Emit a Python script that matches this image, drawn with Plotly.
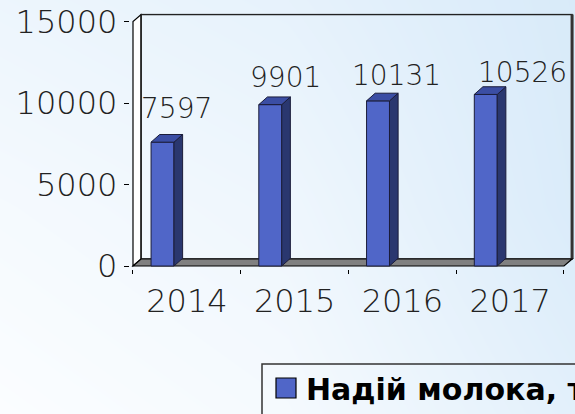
import plotly.graph_objects as go

# ---- data ----
years = ["2014", "2015", "2016", "2017"]
milk_yield = [7597, 9901, 10131, 10526]
y_ticks = [0, 5000, 10000, 15000]
series_name = "Надій молока, т"

# ---- style constants ----
W, H = 575, 414
BAR_FRONT = "#5066c8"
BAR_TOP = "#3b4ea4"
BAR_SIDE = "#2a376f"
EDGE = "#1b1d3a"
THIN = "DejaVu Sans ExtraLight, DejaVu Sans"
label_xshift = [14, 15, 18, 37]
label_yshift = [34, 27, 25, 22]

# geometry of the pseudo-3D frame (axis units)
ux = 107.75            # px per category
uy = 244.5 / 15000     # px per y unit
x0px, y0px = 133, 266  # pixel position of x=-0.5, y=0
bar_off, bar_w = -0.226, 0.213
dxb, dyb = 0.08, 470       # bar depth
dxw, dyw = 0.075, 430      # wall depth
xmin, xmax = -0.53, 3.5 + dxw + 0.02
ymin, ymax = -160, 15000 + dyw + 60

dom_x = [(x0px + (xmin + 0.5) * ux) / W, (x0px + (xmax + 0.5) * ux) / W]
dom_y = [1 - (y0px - ymin * uy) / H, 1 - (y0px - ymax * uy) / H]

fig = go.Figure()

# background gradient (heatmap on a hidden full-page axis pair)
fig.add_trace(go.Heatmap(
    x=[0, 0.5, 1], y=[0, 0.5, 1],
    z=[[0.0, 0.15, 0.6], [0.15, 0.3, 0.8], [0.35, 0.5, 0.85]],
    zmin=0, zmax=1, zsmooth="best", showscale=False, hoverinfo="skip",
    colorscale=[[0, "#fbfdff"], [1, "#d2e7f8"]],
    xaxis="x", yaxis="y"))

xs = [i + bar_off for i in range(len(years))]

# front faces
fig.add_trace(go.Bar(
    x=xs, y=milk_yield, width=bar_w, marker=dict(color=BAR_FRONT, line=dict(color=EDGE, width=1)),
    xaxis="x2", yaxis="y2", showlegend=False, hoverinfo="skip"))

# side and top faces
sx, sy, tx, ty = [], [], [], []
for xc, v in zip(xs, milk_yield):
    xl, xr = xc - bar_w / 2, xc + bar_w / 2
    sx += [xr, xr + dxb, xr + dxb, xr, xr, None]
    sy += [0, dyb, v + dyb, v, 0, None]
    tx += [xl, xr, xr + dxb, xl + dxb, xl, None]
    ty += [v, v, v + dyb, v + dyb, v, None]
fig.add_trace(go.Scatter(x=sx, y=sy, fill="toself", fillcolor=BAR_SIDE, mode="lines",
                         line=dict(color=EDGE, width=1), xaxis="x2", yaxis="y2",
                         showlegend=False, hoverinfo="skip"))
fig.add_trace(go.Scatter(x=tx, y=ty, fill="toself", fillcolor=BAR_TOP, mode="lines",
                         line=dict(color=EDGE, width=1), xaxis="x2", yaxis="y2",
                         showlegend=False, hoverinfo="skip"))

shapes = []
top = y_ticks[-1]
xe = len(years) - 0.5
# left wall
shapes.append(dict(type="path", xref="x2", yref="y2", layer="below",
                   path=f"M -0.5 0 L -0.5 {top} L {-0.5 + dxw} {top + dyw} L {-0.5 + dxw} {dyw} Z",
                   fillcolor="white", line=dict(color="black", width=1.2)))
# back wall
shapes.append(dict(type="rect", xref="x2", yref="y2", layer="below",
                   x0=-0.5 + dxw, x1=xe + dxw, y0=dyw, y1=top + dyw,
                   line=dict(color="#222", width=1.5)))
shapes.append(dict(type="line", xref="x2", yref="y2", layer="below",
                   x0=xe + dxw, x1=xe + dxw, y0=dyw, y1=top + dyw,
                   line=dict(color="#333", width=3)))
# floor
shapes.append(dict(type="path", xref="x2", yref="y2", layer="below",
                   path=f"M -0.5 0 L {xe} 0 L {xe + dxw} {dyw} L {-0.5 + dxw} {dyw} Z",
                   fillcolor="#808080", line=dict(color="black", width=1.2)))

# legend (manual)
shapes.append(dict(type="rect", xref="paper", yref="paper",
                   x0=262 / W, x1=1.1, y0=-0.1, y1=1 - 364 / H,
                   line=dict(color="#333", width=1.5), fillcolor="rgba(0,0,0,0)"))
shapes.append(dict(type="rect", xref="paper", yref="paper",
                   x0=276 / W, x1=296 / W, y0=1 - 398 / H, y1=1 - 378 / H,
                   line=dict(color="black", width=1.2), fillcolor=BAR_FRONT))

annotations = []
for xc, v, xs_, ys_ in zip(xs, milk_yield, label_xshift, label_yshift):
    annotations.append(dict(x=xc, y=v, xref="x2", yref="y2", text=f"{v}", showarrow=False,
                            xanchor="center", yanchor="middle", xshift=xs_, yshift=ys_,
                            font=dict(family=THIN, size=28, color="#222", weight=200)))
annotations.append(dict(x=304 / W, y=1 - 389 / H, xref="paper", yref="paper", text=f"<b>{series_name}</b>",
                        showarrow=False, xanchor="left", yanchor="middle",
                        font=dict(family="DejaVu Sans", size=30, color="black")))

fig.update_layout(
    width=W, height=H,
    margin=dict(l=0, r=0, t=0, b=0, autoexpand=False),
    paper_bgcolor="white", plot_bgcolor="rgba(0,0,0,0)",
    showlegend=False,
    xaxis=dict(domain=[0, 1], range=[0, 1], visible=False, fixedrange=True),
    yaxis=dict(domain=[0, 1], range=[0, 1], visible=False, fixedrange=True),
    xaxis2=dict(domain=dom_x, range=[xmin, xmax], anchor="y2",
                tickmode="array", tickvals=list(range(len(years))), ticktext=years,
                ticks="", showgrid=False, zeroline=False, showline=False,
                minor=dict(tickmode="linear", tick0=-0.5, dtick=1, ticks="outside", ticklen=4,
                           tickcolor="black", showgrid=False),
                tickfont=dict(family=THIN, size=32, color="#222", weight=200), ticklabelstandoff=10),
    yaxis2=dict(domain=dom_y, range=[ymin, ymax], anchor="x2",
                tickmode="array", tickvals=y_ticks, ticktext=[str(t) for t in y_ticks],
                ticks="outside", ticklen=5, tickcolor="black",
                showgrid=False, zeroline=False, showline=False,
                tickfont=dict(family=THIN, size=32, color="#222", weight=200), ticklabelstandoff=0),
    shapes=shapes, annotations=annotations,
)

fig.write_html("out.html", config={"displayModeBar": False},
               post_script="document.body.style.margin='0';")
